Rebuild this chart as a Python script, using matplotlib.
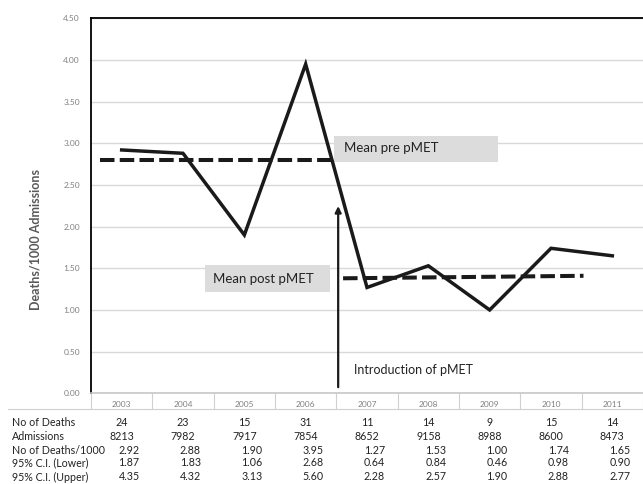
import matplotlib.pyplot as plt
from matplotlib.patches import Rectangle

plt.rcParams['font.family'] = ['Lato', 'DejaVu Sans']

years = ['2003', '2004', '2005', '2006', '2007', '2008', '2009', '2010', '2011']
deaths = [24, 23, 15, 31, 11, 14, 9, 15, 14]
admissions = [8213, 7982, 7917, 7854, 8652, 9158, 8988, 8600, 8473]
rate = [2.92, 2.88, 1.90, 3.95, 1.27, 1.53, 1.00, 1.74, 1.65]
ci_lower = [1.87, 1.83, 1.06, 2.68, 0.64, 0.84, 0.46, 0.98, 0.90]
ci_upper = [4.35, 4.32, 3.13, 5.60, 2.28, 2.57, 1.90, 2.88, 2.77]

# mean lines (drawn as annotations)
pre_x = [-0.35, 3.45]
pre_y = [2.80, 2.80]
post_x = [3.61, 7.53]
post_y = [1.38, 1.41]
intro_x = 3.53

fig = plt.figure(figsize=(6.43, 4.84), dpi=100)
ax = fig.add_axes([91 / 643, 1 - 393.3 / 484, 1 - 91 / 643, 375 / 484])

x = list(range(len(years)))
ax.plot(x, rate, color='#1a1a1a', lw=2.5, solid_joinstyle='miter', zorder=4)
ax.plot(pre_x, pre_y, color='#1a1a1a', lw=2.9, dashes=(3.6, 1.3), zorder=3)
ax.plot(post_x, post_y, color='#1a1a1a', lw=2.9, dashes=(3.6, 1.3), zorder=3)

ax.add_patch(Rectangle((3.47, 2.77), 2.67, 0.32, color='#dcdcdd', zorder=2, lw=0))
ax.text(3.62, 2.94, 'Mean pre pMET', fontsize=9.5, va='center', color='#222222', zorder=5)
ax.add_patch(Rectangle((1.36, 1.21), 2.04, 0.33, color='#dcdcdd', zorder=2, lw=0))
ax.text(1.49, 1.375, 'Mean post pMET', fontsize=9.5, va='center', color='#222222', zorder=5)

ax.annotate('', xy=(intro_x, 2.28), xytext=(intro_x, 0.04),
            arrowprops=dict(arrowstyle='-|>', color='#1a1a1a', lw=1.6,
                            mutation_scale=9), zorder=5)
ax.text(3.78, 0.28, 'Introduction of pMET', fontsize=9, va='center', color='#222222')

ax.set_xlim(-0.5, 8.5)
ax.set_ylim(0, 4.5)
ax.set_yticks([i * 0.5 for i in range(10)])
ax.set_yticklabels(['%.2f' % (i * 0.5) for i in range(10)], fontsize=6, color='#808080')
ax.tick_params(axis='y', length=0, pad=8)
ax.set_xticks([])
ax.grid(axis='y', color='#d9d9d9', lw=1)
ax.set_axisbelow(True)
ax.spines['right'].set_visible(False)
ax.spines['top'].set_linewidth(1.3)
ax.spines['left'].set_linewidth(1.3)
ax.spines['bottom'].set_color('#c8c8c8')
ax.spines['bottom'].set_linewidth(1.2)

ax.set_ylabel('Deaths/1000 Admissions', fontsize=9, fontweight='bold', color='#595959')
ax.yaxis.set_label_coords(-0.089, 0.409)

# category row below the axis
tr = ax.get_xaxis_transform()
for i, yr in enumerate(years):
    ax.text(i, -0.02, yr, transform=tr, ha='center', va='top', fontsize=6, color='#808080')
for i in range(len(years) + 1):
    ax.plot([i - 0.5, i - 0.5], [0, -0.043], transform=tr, color='#d0d0d0', lw=0.8, clip_on=False)
fig.add_artist(plt.Line2D([8 / 643, 1], [1 - 409 / 484, 1 - 409 / 484], color='#d0d0d0', lw=0.8))

# data table
row_labels = ['No of Deaths', 'Admissions', 'No of Deaths/1000', '95% C.I. (Lower)', '95% C.I. (Upper)']
rows = [
    [str(v) for v in deaths],
    [str(v) for v in admissions],
    ['%.2f' % v for v in rate],
    ['%.2f' % v for v in ci_lower],
    ['%.2f' % v for v in ci_upper],
]
row_px = [422, 436, 450, 463, 477]
offsets = [0, 0, 0.12, 0.12, 0.12]
for lab, vals, ypx, off in zip(row_labels, rows, row_px, offsets):
    yy = 1 - ypx / 484
    fig.text(12 / 643, yy, lab, fontsize=7.7, va='center', color='#222222')
    for i, v in enumerate(vals):
        ax.text(i + off, (393.3 - ypx) / 375, v, transform=tr, ha='center', va='center',
                fontsize=7.7, color='#222222')

fig.savefig('out.png', dpi=100)
